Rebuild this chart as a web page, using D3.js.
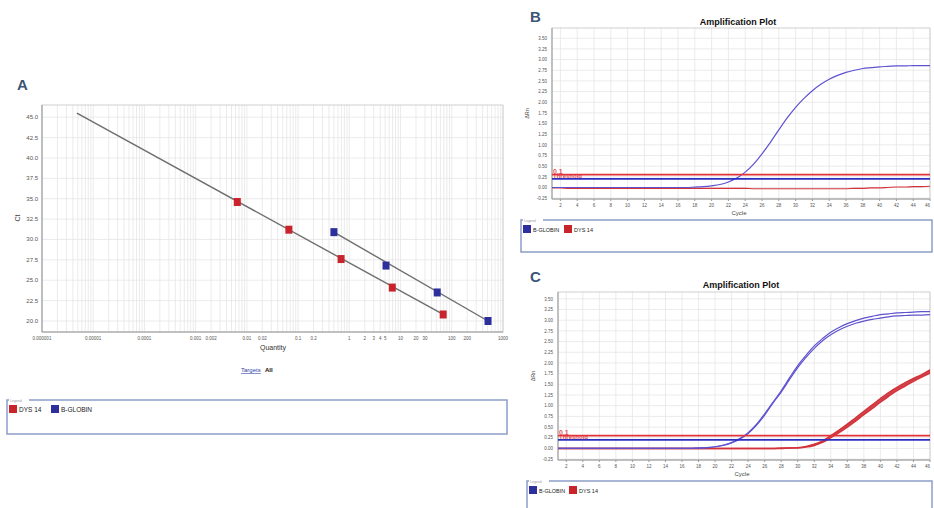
<!DOCTYPE html>
<html lang="en">
    <head>
        <meta charset="utf-8">
        <title>qPCR standard curve and amplification plots</title>
        <script type="text/javascript" src="https://d3js.org/d3.v7.min.js"></script>
        <style type="text/css">
            body { margin: 0; background: #fff; }
            text { font-family: "Liberation Sans", Arial, sans-serif; }
        </style>
    </head>
    <body>
        <script type="text/javascript">
            //Panel A data: standard curve
            var qtyTicks = [0.000001, 0.00001, 0.0001, 0.001, 0.002, 0.01, 0.02, 0.1, 0.2, 1, 2, 3, 4, 5, 10, 20, 30, 100, 200, 1000];
            var qtyLabels = ["0.000001", "0.00001", "0.0001", "0.001", "0.002", "0.01", "0.02", "0.1", "0.2", "1", "2", "3", "4", "5", "10", "20", "30", "100", "200", "1000"];
            var ctTicks = [20, 22.5, 25, 27.5, 30, 32.5, 35, 37.5, 40, 42.5, 45];
            var dysQty = [0.0065, 0.066, 0.69, 6.9, 68];
            var dysCt = [34.6, 31.2, 27.6, 24.1, 20.8];
            var globQty = [0.5, 5.2, 52, 510];
            var globCt = [30.9, 26.8, 23.5, 20.0];
            var dysLineQty = [0.0000048, 68];
            var dysLineCt = [45.5, 20.8];
            var globLineQty = [0.5, 510];
            var globLineCt = [30.9, 20.0];

            //Panel B and C data: amplification curves
            var cycles = [1, 2, 3, 4, 5, 6, 7, 8, 9, 10, 11, 12, 13, 14, 15, 16, 17, 18, 19, 20, 21, 22, 23, 24, 25, 26, 27, 28, 29, 30, 31, 32, 33, 34, 35, 36, 37, 38, 39, 40, 41, 42, 43, 44, 45, 46];
            var cycleTicks = [2, 4, 6, 8, 10, 12, 14, 16, 18, 20, 22, 24, 26, 28, 30, 32, 34, 36, 38, 40, 42, 44, 46];
            var rnTicks = [-0.25, 0, 0.25, 0.5, 0.75, 1, 1.25, 1.5, 1.75, 2, 2.25, 2.5, 2.75, 3, 3.25, 3.5];

            var globB = [0, 0, 0, 0, 0, 0, 0, 0, 0, 0, 0, 0, 0, 0, 0, 0, 0, 0.01, 0.02, 0.04, 0.07, 0.13, 0.22, 0.36, 0.55, 0.79, 1.06, 1.35, 1.63, 1.88, 2.09, 2.27, 2.42, 2.54, 2.63, 2.70, 2.75, 2.79, 2.81, 2.83, 2.84, 2.85, 2.85, 2.86, 2.86, 2.86];
            var dysB = [-0.01, -0.01, -0.02, -0.02, -0.02, -0.02, -0.02, -0.02, -0.02, -0.02, -0.02, -0.02, -0.02, -0.02, -0.02, -0.02, -0.02, -0.02, -0.02, -0.02, -0.02, -0.02, -0.02, -0.02, -0.03, -0.03, -0.03, -0.03, -0.03, -0.03, -0.03, -0.03, -0.03, -0.03, -0.03, -0.03, -0.02, -0.02, -0.01, -0.01, 0, 0.01, 0.01, 0.02, 0.02, 0.03];
            var threshB = [0.3, 0.2];

            var globC1 = [0, 0, 0, 0, 0, 0, 0, 0, 0, 0, 0, 0, 0, 0, 0, 0, 0, 0.01, 0.02, 0.04, 0.08, 0.14, 0.23, 0.37, 0.56, 0.81, 1.08, 1.35, 1.65, 1.94, 2.18, 2.40, 2.57, 2.72, 2.83, 2.92, 2.99, 3.05, 3.09, 3.13, 3.15, 3.17, 3.18, 3.19, 3.20, 3.20];
            var globC2 = [0, 0, 0, 0, 0, 0, 0, 0, 0, 0, 0, 0, 0, 0, 0, 0, 0, 0.01, 0.02, 0.04, 0.07, 0.13, 0.22, 0.35, 0.54, 0.78, 1.06, 1.32, 1.61, 1.89, 2.13, 2.34, 2.52, 2.66, 2.77, 2.86, 2.93, 2.98, 3.02, 3.05, 3.08, 3.10, 3.11, 3.12, 3.12, 3.13];
            var dysC1 = [0, 0, 0, 0, 0, 0, 0, 0, 0, 0, 0, 0, 0, 0, 0, 0, 0, 0, 0, 0, 0, 0, 0, 0, 0, 0, 0, 0.01, 0.01, 0.02, 0.05, 0.10, 0.18, 0.30, 0.43, 0.57, 0.72, 0.87, 1.02, 1.17, 1.31, 1.43, 1.54, 1.64, 1.73, 1.84];
            var dysC2 = [0, 0, 0, 0, 0, 0, 0, 0, 0, 0, 0, 0, 0, 0, 0, 0, 0, 0, 0, 0, 0, 0, 0, 0, 0, 0, 0, 0, 0.01, 0.01, 0.03, 0.07, 0.14, 0.25, 0.37, 0.50, 0.64, 0.79, 0.93, 1.08, 1.22, 1.35, 1.46, 1.57, 1.67, 1.76];
            var threshC = [0.3, 0.2];

            var red = "#c9232b";
            var blue = "#2d2f9c";
            var curveBlue = "#5e52cf";
            var gridCol = "#e6e6e6";

            //Create SVG element
            var svg = d3.select("body")
                        .append("svg")
                        .attr("width", 934)
                        .attr("height", 508);

            svg.append("rect").attr("width", 934).attr("height", 508).attr("fill", "#fff");

            // ---------------- Panel A ----------------
            var xA = d3.scaleLog().domain([1e-6, 1000]).range([42, 503]);
            var yA = d3.scaleLinear().domain([18.65, 46.5]).range([332, 105]);

            svg.append("text").text("A")
               .attr("x", 17).attr("y", 90)
               .attr("font-size", "15px").attr("font-weight", "bold")
               .attr("fill", "#3b5576");

            var gA = svg.append("g");

            gA.selectAll("line.vgrid")
              .data(xA.ticks())
              .enter()
              .append("line")
              .attr("class", "vgrid")
              .attr("x1", function(d) { return xA(d); })
              .attr("x2", function(d) { return xA(d); })
              .attr("y1", 105).attr("y2", 332)
              .attr("stroke", gridCol).attr("stroke-width", 0.8);

            gA.selectAll("line.hgrid")
              .data(ctTicks)
              .enter()
              .append("line")
              .attr("class", "hgrid")
              .attr("x1", 42).attr("x2", 503)
              .attr("y1", function(d) { return yA(d); })
              .attr("y2", function(d) { return yA(d); })
              .attr("stroke", gridCol).attr("stroke-width", 0.8);

            gA.append("rect")
              .attr("x", 42).attr("y", 105).attr("width", 461).attr("height", 227)
              .attr("fill", "none").attr("stroke", "#d0d0d0");

            gA.append("line").attr("x1", 42).attr("x2", 42).attr("y1", 105).attr("y2", 332).attr("stroke", "#999");
            gA.append("line").attr("x1", 42).attr("x2", 503).attr("y1", 332).attr("y2", 332).attr("stroke", "#999");

            gA.selectAll("text.ytick")
              .data(ctTicks)
              .enter()
              .append("text")
              .attr("class", "ytick")
              .text(function(d) { return d.toFixed(1); })
              .attr("x", 38)
              .attr("y", function(d) { return yA(d) + 2; })
              .attr("text-anchor", "end")
              .attr("font-size", "6px").attr("fill", "#555");

            gA.selectAll("text.xtick")
              .data(qtyTicks)
              .enter()
              .append("text")
              .attr("class", "xtick")
              .text(function(d, i) { return qtyLabels[i]; })
              .attr("x", function(d) { return xA(d); })
              .attr("y", 340)
              .attr("text-anchor", "middle")
              .attr("font-size", "4.5px").attr("fill", "#555");

            gA.append("text").text("Ct")
              .attr("transform", "translate(20,218) rotate(-90)")
              .attr("text-anchor", "middle")
              .attr("font-size", "7px").attr("fill", "#444");

            gA.append("text").text("Quantity")
              .attr("x", 273).attr("y", 350)
              .attr("text-anchor", "middle")
              .attr("font-size", "7px").attr("fill", "#333");

            gA.append("text").text("Targets")
              .attr("x", 241).attr("y", 372)
              .attr("font-size", "6px").attr("fill", "#3344aa")
              .attr("text-decoration", "underline");
            gA.append("text").text("All")
              .attr("x", 265).attr("y", 372)
              .attr("font-size", "6px").attr("font-weight", "bold").attr("fill", "#111");

            //Standard curve lines
            var lineA = d3.line()
                          .x(function(d) { return xA(d[0]); })
                          .y(function(d) { return yA(d[1]); });

            gA.append("path")
              .datum(d3.zip(dysLineQty, dysLineCt))
              .attr("d", lineA)
              .attr("fill", "none").attr("stroke", "#6e6e6e").attr("stroke-width", 1.4);
            gA.append("path")
              .datum(d3.zip(globLineQty, globLineCt))
              .attr("d", lineA)
              .attr("fill", "none").attr("stroke", "#6e6e6e").attr("stroke-width", 1.4);

            gA.selectAll("rect.dys")
              .data(d3.zip(dysQty, dysCt))
              .enter()
              .append("rect")
              .attr("class", "dys")
              .attr("x", function(d) { return xA(d[0]) - 3.5; })
              .attr("y", function(d) { return yA(d[1]) - 4; })
              .attr("width", 7).attr("height", 8)
              .attr("fill", red);

            gA.selectAll("rect.glob")
              .data(d3.zip(globQty, globCt))
              .enter()
              .append("rect")
              .attr("class", "glob")
              .attr("x", function(d) { return xA(d[0]) - 3.5; })
              .attr("y", function(d) { return yA(d[1]) - 4; })
              .attr("width", 7).attr("height", 8)
              .attr("fill", blue);

            //Legend A
            drawLegend(7, 400, 500, 34, [["DYS 14", red], ["B-GLOBIN", blue]], 6.5, 42);

            // ---------------- Panels B and C ----------------
            drawAmp({
                letter: "B", letterY: 22, titleY: 25,
                x0: 552, x1: 930, y0: 28, y1: 199, yMin: -0.27, yMax: 3.74,
                blues: [globB], reds: [dysB], band: null, thresh: threshB
            });
            drawLegend(521, 220, 411, 32, [["B-GLOBIN", blue], ["DYS 14", red]], 5.5, 41);

            drawAmp({
                letter: "C", letterY: 282, titleY: 288,
                x0: 558, x1: 930, y0: 292, y1: 460, yMin: -0.27, yMax: 3.66,
                blues: [globC1, globC2], reds: [dysC1, dysC2], band: [dysC1, dysC2], thresh: threshC
            });
            drawLegend(527, 481, 405, 32, [["B-GLOBIN", blue], ["DYS 14", red]], 5.5, 40);

            function drawAmp(o) {
                var x = d3.scaleLinear().domain([1, 46]).range([o.x0, o.x1]);
                var y = d3.scaleLinear().domain([o.yMin, o.yMax]).range([o.y1, o.y0]);
                var g = svg.append("g");
                var id = "clip" + o.letter;

                g.append("clipPath").attr("id", id)
                 .append("rect").attr("x", o.x0).attr("y", o.y0)
                 .attr("width", o.x1 - o.x0).attr("height", o.y1 - o.y0);

                svg.append("text").text(o.letter)
                   .attr("x", 530).attr("y", o.letterY)
                   .attr("font-size", "15px").attr("font-weight", "bold")
                   .attr("fill", "#3b5576");

                g.append("text").text("Amplification Plot")
                 .attr("x", (o.x0 + o.x1) / 2 - 3).attr("y", o.titleY)
                 .attr("text-anchor", "middle")
                 .attr("font-size", "9px").attr("font-weight", "bold").attr("fill", "#111");

                g.selectAll("line.vg")
                 .data(cycleTicks)
                 .enter()
                 .append("line")
                 .attr("x1", function(d) { return x(d); })
                 .attr("x2", function(d) { return x(d); })
                 .attr("y1", o.y0).attr("y2", o.y1)
                 .attr("stroke", gridCol).attr("stroke-width", 0.8);

                g.selectAll("line.hg")
                 .data(rnTicks)
                 .enter()
                 .append("line")
                 .attr("x1", o.x0).attr("x2", o.x1)
                 .attr("y1", function(d) { return y(d); })
                 .attr("y2", function(d) { return y(d); })
                 .attr("stroke", gridCol).attr("stroke-width", 0.8);

                g.append("rect")
                 .attr("x", o.x0).attr("y", o.y0)
                 .attr("width", o.x1 - o.x0).attr("height", o.y1 - o.y0)
                 .attr("fill", "none").attr("stroke", "#cfcfcf");
                g.append("line").attr("x1", o.x0).attr("x2", o.x0).attr("y1", o.y0).attr("y2", o.y1).attr("stroke", "#999");
                g.append("line").attr("x1", o.x0).attr("x2", o.x1).attr("y1", o.y1).attr("y2", o.y1).attr("stroke", "#999");

                g.selectAll("line.xt")
                 .data(cycleTicks)
                 .enter()
                 .append("line")
                 .attr("x1", function(d) { return x(d); })
                 .attr("x2", function(d) { return x(d); })
                 .attr("y1", o.y1).attr("y2", o.y1 + 2)
                 .attr("stroke", "#999");

                g.selectAll("text.yt")
                 .data(rnTicks)
                 .enter()
                 .append("text")
                 .text(function(d) { return d.toFixed(2); })
                 .attr("x", o.x0 - 5)
                 .attr("y", function(d) { return y(d) + 1.7; })
                 .attr("text-anchor", "end")
                 .attr("font-size", "4.5px").attr("fill", "#555");

                g.selectAll("text.xt")
                 .data(cycleTicks)
                 .enter()
                 .append("text")
                 .text(function(d) { return d; })
                 .attr("x", function(d) { return x(d); })
                 .attr("y", o.y1 + 8)
                 .attr("text-anchor", function(d) { return d === 46 ? "end" : "middle"; })
                 .attr("font-size", "4.5px").attr("fill", "#555");

                g.append("text").text("Cycle")
                 .attr("x", (o.x0 + o.x1) / 2 - 2).attr("y", o.y1 + 16)
                 .attr("text-anchor", "middle")
                 .attr("font-size", "6px").attr("fill", "#444");

                g.append("text").text("ΔRn")
                 .attr("transform", "translate(" + (o.x0 - 23) + "," + ((o.y0 + o.y1) / 2) + ") rotate(-90)")
                 .attr("text-anchor", "middle")
                 .attr("font-size", "5.5px").attr("fill", "#444");

                var plot = g.append("g").attr("clip-path", "url(#" + id + ")");

                var line = d3.line()
                             .x(function(d, i) { return x(cycles[i]); })
                             .y(function(d) { return y(d); })
                             .curve(d3.curveMonotoneX);

                if (o.band) {
                    var area = d3.area()
                                 .x(function(d, i) { return x(cycles[i]); })
                                 .y0(function(d, i) { return y(o.band[1][i]); })
                                 .y1(function(d) { return y(d); })
                                 .curve(d3.curveMonotoneX);
                    plot.append("path").datum(o.band[0]).attr("d", area)
                        .attr("fill", red).attr("opacity", 0.85);
                }

                o.reds.forEach(function(s) {
                    plot.append("path").datum(s).attr("d", line)
                        .attr("fill", "none").attr("stroke", "#d3323a").attr("stroke-width", o.band ? 1.4 : 1.1);
                });

                o.blues.forEach(function(s) {
                    plot.append("path").datum(s).attr("d", line)
                        .attr("fill", "none").attr("stroke", curveBlue).attr("stroke-width", 1.2);
                });

                //Threshold lines
                plot.append("line")
                    .attr("x1", o.x0).attr("x2", o.x1)
                    .attr("y1", y(o.thresh[0])).attr("y2", y(o.thresh[0]))
                    .attr("stroke", "#e0343a").attr("stroke-width", 1.8);
                plot.append("line")
                    .attr("x1", o.x0).attr("x2", o.x1)
                    .attr("y1", y(o.thresh[1])).attr("y2", y(o.thresh[1]))
                    .attr("stroke", "#2b2fc0").attr("stroke-width", 1.8);

                g.append("text").text("0.1")
                 .attr("x", o.x0 + 1).attr("y", y(o.thresh[0]) - 1)
                 .attr("font-size", "7px").attr("font-weight", "bold")
                 .attr("fill", "#e0343a").attr("opacity", 0.85);
                g.append("text").text("Threshold")
                 .attr("x", o.x0 + 1).attr("y", y(o.thresh[0]) + 3.5)
                 .attr("font-size", "6px").attr("font-weight", "bold")
                 .attr("fill", "#e0343a").attr("opacity", 0.85);
            }

            function drawLegend(lx, ly, lw, lh, items, fs, gap) {
                var g = svg.append("g");
                g.append("rect")
                 .attr("x", lx).attr("y", ly).attr("width", lw).attr("height", lh)
                 .attr("fill", "#fff").attr("stroke", "#8d9dc8").attr("stroke-width", 1.5);
                g.append("rect")
                 .attr("x", lx + 2).attr("y", ly - 3).attr("width", 20).attr("height", 5)
                 .attr("fill", "#fff");
                g.append("text").text("Legend")
                 .attr("x", lx + 3).attr("y", ly + 1.5)
                 .attr("font-size", "3.5px").attr("fill", "#999");
                items.forEach(function(it, i) {
                    g.append("rect")
                     .attr("x", lx + 2 + i * gap).attr("y", ly + 5)
                     .attr("width", 8).attr("height", 8)
                     .attr("fill", it[1]);
                    g.append("text").text(it[0])
                     .attr("x", lx + 12 + i * gap).attr("y", ly + 11.5)
                     .attr("font-size", fs + "px").attr("fill", "#222");
                });
            }
        </script>
    </body>
</html>
